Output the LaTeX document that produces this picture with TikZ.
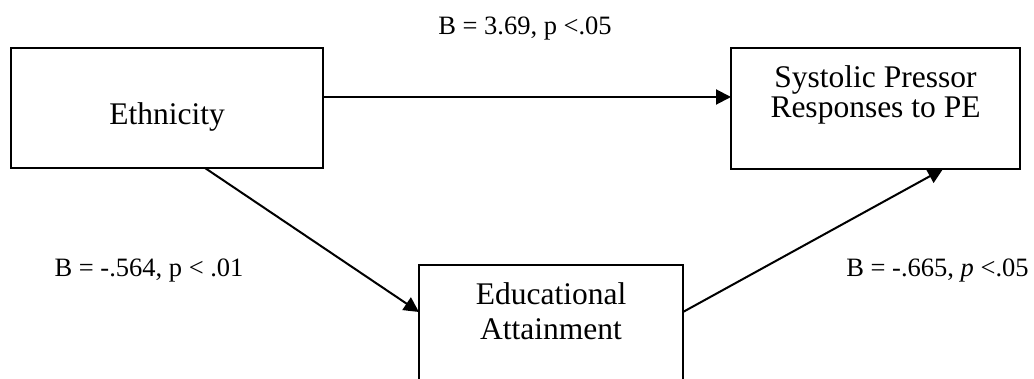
\documentclass[tikz,border=0pt]{standalone}
\usepackage{fontspec}
\setmainfont{Liberation Serif}
\usetikzlibrary{arrows.meta,calc}
\begin{document}
\begin{tikzpicture}[x=1pt,y=-1pt,
  box/.style={draw=black,line width=2.3pt,fill=white,anchor=north west,inner sep=0pt,outer sep=0pt},
  boxtext/.style={anchor=base,inner sep=0pt,font=\fontsize{31.5}{31}\selectfont},
  lbl/.style={anchor=base,inner sep=0pt,font=\fontsize{26.5}{30}\selectfont},
  conn/.style={line width=2pt,-{Triangle[length=15pt,width=15pt]}}]
\useasboundingbox (0,0) rectangle (1034,379);
\clip (0,0) rectangle (1034,379);
\node[box,minimum width=312pt,minimum height=120pt] (eth) at (11,48) {};
\node[box,minimum width=289pt,minimum height=121pt] (sys) at (731,48) {};
\node[box,minimum width=264pt,minimum height=121pt] (edu) at (419,265) {};
\node[boxtext] (etht) at (167,125) {Ethnicity};
\node[boxtext] (syst1) at (875.5,88) {Systolic Pressor};
\node[boxtext] (syst2) at (875.5,118) {Responses to PE};
\node[boxtext] (edut1) at (551,305) {Educational};
\node[boxtext] (edut2) at (551,340) {Attainment};
\node[lbl] (l1) at (525,35) {B = 3.69, p <.05};
\node[lbl] (l2) at (149,277) {B = -.564, p < .01};
\node[lbl] (l3) at (937.5,277) {B = -.665, \textit{p} <.05};
\coordinate (a1) at ($(eth.north east)+(0,49)$);
\coordinate (a2) at ($(sys.north west)+(0,49)$);
\coordinate (b1) at ($(eth.south west)+(194,0)$);
\coordinate (b2) at ($(edu.north west)+(0,47)$);
\coordinate (c1) at ($(edu.north east)+(0,47)$);
\coordinate (c2) at ($(sys.south west)+(212,0)$);
\draw[conn] (a1) -- (a2);
\draw[conn] (b1) -- (b2);
\draw[conn] (c1) -- (c2);
\end{tikzpicture}
\end{document}
